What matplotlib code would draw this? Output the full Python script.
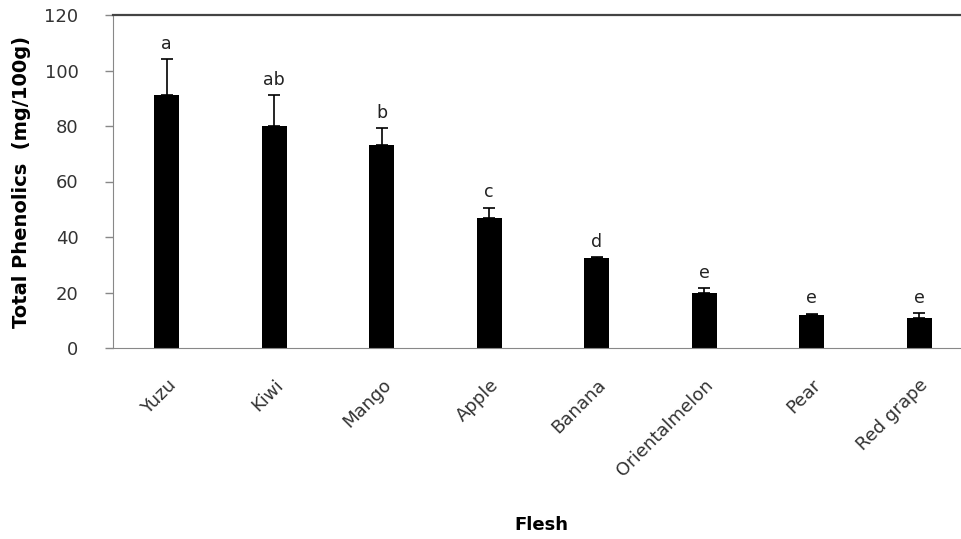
import numpy as np
import matplotlib.pyplot as plt
from matplotlib.transforms import ScaledTranslation

fruits = ['Yuzu', 'Kiwi', 'Mango', 'Apple', 'Banana', 'Orientalmelon', 'Pear', 'Red grape']
phenolics = [91.2, 80.0, 73.2, 47.0, 32.4, 19.8, 11.9, 10.7]
errors = [12.8, 11.0, 6.1, 3.5, 0.4, 1.7, 0.4, 1.8]
letters = ['a', 'ab', 'b', 'c', 'd', 'e', 'e', 'e']

plt.rcParams['font.family'] = ['DejaVu Sans']

fig = plt.figure(figsize=(9.61, 5.39), dpi=100)
# axes runs a bit past the right edge, like the cropped original
ax = fig.add_axes([113 / 961, 1 - 348 / 539, 860 / 961, 333 / 539])

x = np.arange(len(fruits))
ax.bar(x, phenolics, width=0.23, color='black', zorder=2)
ax.errorbar(x, phenolics, yerr=[np.zeros(len(errors)), errors], fmt='none',
            ecolor='black', elinewidth=1.2, capsize=4.3, capthick=1.2, zorder=3)

for xi, v, e, t in zip(x, phenolics, errors, letters):
    ax.text(xi, v + e + 2.3, t, ha='center', va='bottom', fontsize=12.5,
            color='#222222')

ax.set_xlim(-0.5, len(fruits) - 0.5)
ax.set_ylim(0, 120)
ax.set_yticks(np.arange(0, 121, 20))
ax.set_xticks(x)
ax.set_xticklabels(fruits, rotation=45, ha='right', rotation_mode='anchor',
                   fontsize=13, color='#333333')
offset = ScaledTranslation(-6 / 72, 0, fig.dpi_scale_trans)
for lab in ax.get_xticklabels():
    lab.set_transform(lab.get_transform() + offset)
ax.tick_params(axis='x', length=0, pad=20)
ax.tick_params(axis='y', length=5.8, width=1, color='#888888', labelsize=13,
               labelcolor='#333333', pad=19)

ax.spines['right'].set_visible(False)
ax.spines['left'].set_color('#888888')
ax.spines['bottom'].set_color('#888888')
ax.spines['top'].set_color('#444444')
ax.spines['top'].set_linewidth(1.6)

ax.set_ylabel('Total Phenolics  (mg/100g)', fontsize=14, fontweight='bold', labelpad=10)
fig.text(541 / 961, 1 - 525 / 539, 'Flesh', ha='center', va='center',
         fontsize=13, fontweight='bold')

fig.savefig('out.png', dpi=100)
